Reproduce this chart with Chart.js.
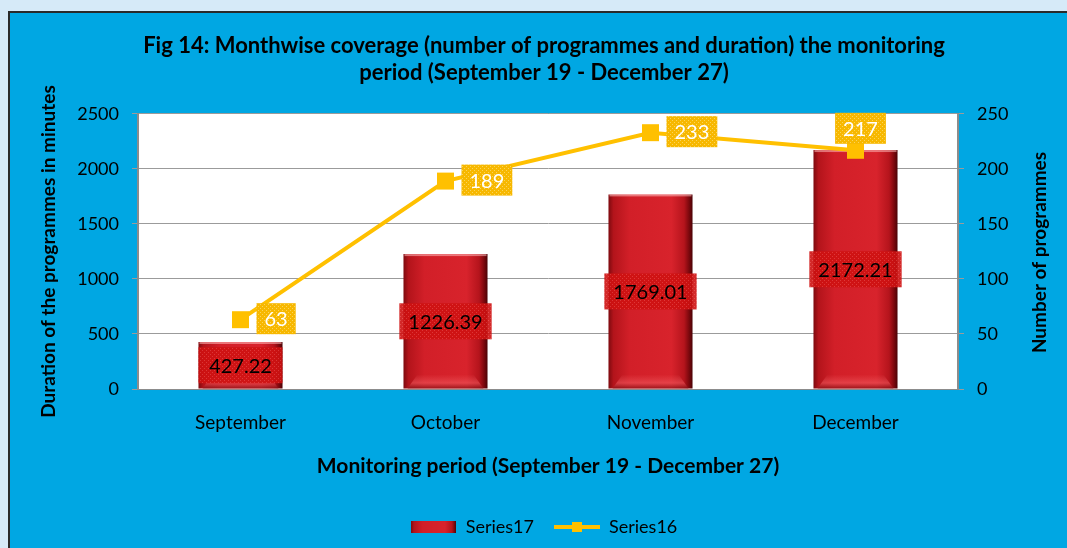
<!DOCTYPE html>
<html><head><meta charset="utf-8">
<script src="https://cdn.jsdelivr.net/npm/chart.js@4"></script>
<style>
html,body{margin:0;padding:0;}
body{width:1067px;height:548px;background:#d6eaf8;position:relative;overflow:hidden;}
#panel{position:absolute;left:8px;top:11px;width:1080px;height:560px;background:#00a7e3;border:2px solid #2a2a2a;}
#wrap{position:absolute;left:0;top:0;width:1067px;height:548px;}
</style></head><body>
<div id="panel"></div>
<div id="wrap"><canvas id="c" width="1067" height="548"></canvas></div>
<script>
const categories = ['September', 'October', 'November', 'December'];
const durationMinutes = [427.22, 1226.39, 1769.01, 2172.21];
const programmeCounts = [63, 189, 233, 217];
const durationTicks = [0, 500, 1000, 1500, 2000, 2500];
const countTicks = [0, 50, 100, 150, 200, 250];
const seriesNames = ['Series17', 'Series16'];
const titleLines = ['Fig 14: Monthwise coverage (number of programmes and duration) the monitoring', 'period (September 19 - December 27)'];
const xTitle = 'Monitoring period (September 19 - December 27)';
const yTitle = 'Duration of the programmes in minutes';
const y1Title = 'Number of programmes';

const FONT = 'Lato';
const BAR_PCT = 0.41;
const YELLOW = '#ffc000';

function makePattern(base, dot, n) {
  const c = document.createElement('canvas');
  c.width = 4; c.height = 4;
  const g = c.getContext('2d');
  g.fillStyle = base; g.fillRect(0, 0, 4, 4);
  g.fillStyle = dot;
  g.fillRect(0, 0, 1, 1); g.fillRect(2, 2, 1, 1);
  if (n > 2) { g.fillRect(2, 0, 1, 1); g.fillRect(0, 2, 1, 1); }
  return c;
}
const yellowPatCanvas = makePattern('#f7b800', '#fcd45a', 2);
const redPatCanvas = makePattern('#cf1212', '#e03a3a', 2);

function barGradient(ctx, left, width) {
  const g = ctx.createLinearGradient(left, 0, left + width, 0);
  g.addColorStop(0, '#7e0a0f');
  g.addColorStop(0.06, '#b3141b');
  g.addColorStop(0.25, '#d21f28');
  g.addColorStop(0.75, '#d8232c');
  g.addColorStop(0.9, '#b5141c');
  g.addColorStop(0.96, '#7a080d');
  g.addColorStop(1, '#4a0306');
  return g;
}

// legend images
const legendBar = document.createElement('canvas');
legendBar.width = 45; legendBar.height = 12;
(function () {
  const g = legendBar.getContext('2d');
  g.fillStyle = barGradient(g, 0, 45);
  g.fillRect(0, 0, 45, 12);
})();
const legendLine = document.createElement('canvas');
legendLine.width = 46; legendLine.height = 12;
(function () {
  const g = legendLine.getContext('2d');
  g.fillStyle = YELLOW;
  g.fillRect(0, 4, 46, 4);
  g.fillRect(18, 1, 10, 10);
})();

const plotBg = {
  id: 'plotBg',
  beforeDraw(chart) {
    const {ctx, chartArea: a} = chart;
    ctx.save();
    ctx.fillStyle = '#ffffff';
    ctx.fillRect(a.left, a.top, a.right - a.left, a.bottom - a.top);
    ctx.restore();
  }
};

const rightTitle = {
  id: 'rightTitle',
  afterDraw(chart) {
    const {ctx, chartArea: a} = chart;
    const s = chart.scales.y1;
    ctx.save();
    ctx.font = 'bold 19px ' + FONT;
    ctx.fillStyle = '#000000';
    ctx.textAlign = 'center';
    ctx.textBaseline = 'middle';
    ctx.translate(s.right - 11, (a.top + a.bottom) / 2 + 1);
    ctx.rotate(-Math.PI / 2);
    ctx.fillText(y1Title, 0, 0);
    ctx.restore();
  }
};

const barBevel = {
  id: 'barBevel',
  afterDatasetDraw(chart, args) {
    if (args.index !== 0) return;
    const {ctx} = chart;
    args.meta.data.forEach(el => {
      const w = el.width, l = el.x - w / 2, t = el.y, b = el.base;
      ctx.save();
      ctx.fillStyle = 'rgba(255,190,190,0.55)';
      ctx.fillRect(l + 1, t, w - 2, 2);
      const h = Math.min(14, (b - t) / 3);
      const g = ctx.createLinearGradient(0, b - h, 0, b);
      g.addColorStop(0, 'rgba(240,90,95,0)');
      g.addColorStop(0.6, 'rgba(240,90,95,0.55)');
      g.addColorStop(1, 'rgba(120,10,15,0.6)');
      ctx.fillStyle = g;
      ctx.beginPath();
      ctx.moveTo(l + 4, b);
      ctx.lineTo(l + 14, b - h);
      ctx.lineTo(l + w - 14, b - h);
      ctx.lineTo(l + w - 4, b);
      ctx.closePath();
      ctx.fill();
      ctx.restore();
    });
  }
};

const valueLabels = {
  id: 'valueLabels',
  afterDatasetsDraw(chart) {
    const {ctx} = chart;
    const yPat = ctx.createPattern(yellowPatCanvas, 'repeat');
    const rPat = ctx.createPattern(redPatCanvas, 'repeat');
    ctx.save();
    ctx.font = '20px ' + FONT;
    ctx.textAlign = 'center';
    ctx.textBaseline = 'middle';
    const bm = chart.getDatasetMeta(0);
    bm.data.forEach((el, i) => {
      const txt = String(durationMinutes[i]);
      const tw = ctx.measureText(txt).width;
      const bw = Math.max(el.width, tw + 18), bh = 36;
      const cy = Math.max((el.y + el.base) / 2, el.y + bh / 2);
      const cyy = Math.min(cy, el.base - bh / 2 + 10);
      ctx.fillStyle = rPat;
      ctx.globalAlpha = 0.9;
      ctx.fillRect(el.x - bw / 2, cyy - bh / 2, bw, bh);
      ctx.globalAlpha = 1;
      ctx.fillStyle = '#000000';
      ctx.fillText(txt, el.x, cyy + 1);
    });
    const lm = chart.getDatasetMeta(1);
    const n = lm.data.length;
    lm.data.forEach((pt, i) => {
      const txt = String(programmeCounts[i]);
      const tw = ctx.measureText(txt).width;
      const bw = tw + 16, bh = 31;
      let cx, cy;
      if (i === n - 1) { cx = pt.x + 5; cy = pt.y - 22; }
      else { cx = pt.x + 16 + bw / 2; cy = pt.y - 1; }
      ctx.fillStyle = yPat;
      ctx.fillRect(cx - bw / 2, cy - bh / 2, bw, bh);
      ctx.fillStyle = '#ffffff';
      ctx.fillText(txt, cx, cy + 1);
    });
    ctx.restore();
  }
};

const plainTick = (v) => String(v);

new Chart(document.getElementById('c'), {
  data: {
    labels: categories,
    datasets: [
      {
        type: 'bar',
        label: seriesNames[0],
        data: durationMinutes,
        yAxisID: 'y',
        order: 2,
        barPercentage: BAR_PCT,
        categoryPercentage: 1,
        borderWidth: 0,
        backgroundColor: (c) => {
          const chart = c.chart;
          const a = chart.chartArea;
          if (!a || c.dataIndex === undefined) return '#c8141c';
          const cw = (a.right - a.left) / categories.length * BAR_PCT;
          const x = chart.scales.x.getPixelForValue(c.dataIndex);
          return barGradient(chart.ctx, x - cw / 2, cw);
        }
      },
      {
        type: 'line',
        label: seriesNames[1],
        data: programmeCounts,
        yAxisID: 'y1',
        order: 1,
        borderColor: YELLOW,
        backgroundColor: YELLOW,
        borderWidth: 4,
        tension: 0,
        pointStyle: 'rect',
        pointRadius: 12,
        pointHoverRadius: 12,
        pointBorderWidth: 0,
        pointBackgroundColor: YELLOW
      }
    ]
  },
  options: {
    responsive: false,
    animation: false,
    devicePixelRatio: 1,
    layout: { padding: { left: 37, right: 16, top: 0, bottom: 2 } },
    plugins: {
      tooltip: { enabled: false },
      title: {
        display: true,
        text: titleLines,
        color: '#000000',
        font: { family: FONT, size: 22, weight: 'bold', lineHeight: 1.227 },
        padding: { top: 32, bottom: 28 }
      },
      legend: {
        position: 'bottom',
        labels: {
          usePointStyle: true,
          pointStyleWidth: 46,
          boxHeight: 12,
          padding: 20,
          color: '#000000',
          font: { family: FONT, size: 18 },
          generateLabels: () => [
            { text: seriesNames[0], pointStyle: legendBar, fontColor: '#000', datasetIndex: 0, lineWidth: 0, strokeStyle: 'transparent' },
            { text: seriesNames[1], pointStyle: legendLine, fontColor: '#000', datasetIndex: 1, lineWidth: 0, strokeStyle: 'transparent' }
          ]
        }
      }
    },
    scales: {
      x: {
        offset: true,
        grid: { display: false, drawTicks: false },
        border: { display: true, color: '#8c8c8c', width: 1 },
        ticks: { color: '#000000', font: { family: FONT, size: 19 }, padding: 22, maxRotation: 0 },
        title: {
          display: true, text: xTitle, color: '#000000',
          font: { family: FONT, size: 21, weight: 'bold', lineHeight: 1.2 },
          padding: { top: 0, bottom: 19 }
        },
        afterFit: (s) => { s.height = 109; }
      },
      y: {
        position: 'left',
        min: 0, max: 2500,
        afterBuildTicks: (s) => { s.ticks = durationTicks.map(v => ({ value: v })); },
        grid: { color: '#9b9b9b', lineWidth: 1, tickLength: 6, drawTicks: true },
        border: { display: true, color: '#8c8c8c', width: 2 },
        ticks: { color: '#000000', font: { family: FONT, size: 18 }, padding: 13, callback: plainTick },
        title: {
          display: true, text: yTitle, color: '#000000',
          font: { family: FONT, size: 19, weight: 'bold', lineHeight: 1.2 },
          padding: { top: 0, bottom: 0 }
        },
        afterFit: (s) => { s.width = 101; }
      },
      y1: {
        position: 'right',
        min: 0, max: 250,
        afterBuildTicks: (s) => { s.ticks = countTicks.map(v => ({ value: v })); },
        grid: { drawOnChartArea: false, color: '#9b9b9b', tickLength: 6, drawTicks: true },
        border: { display: true, color: '#8c8c8c', width: 2 },
        ticks: { color: '#000000', font: { family: FONT, size: 18 }, padding: 13, callback: plainTick },
        title: { display: false },
        afterFit: (s) => { s.width = 93; }
      }
    }
  },
  plugins: [plotBg, barBevel, valueLabels, rightTitle]
});
</script>
</body></html>
